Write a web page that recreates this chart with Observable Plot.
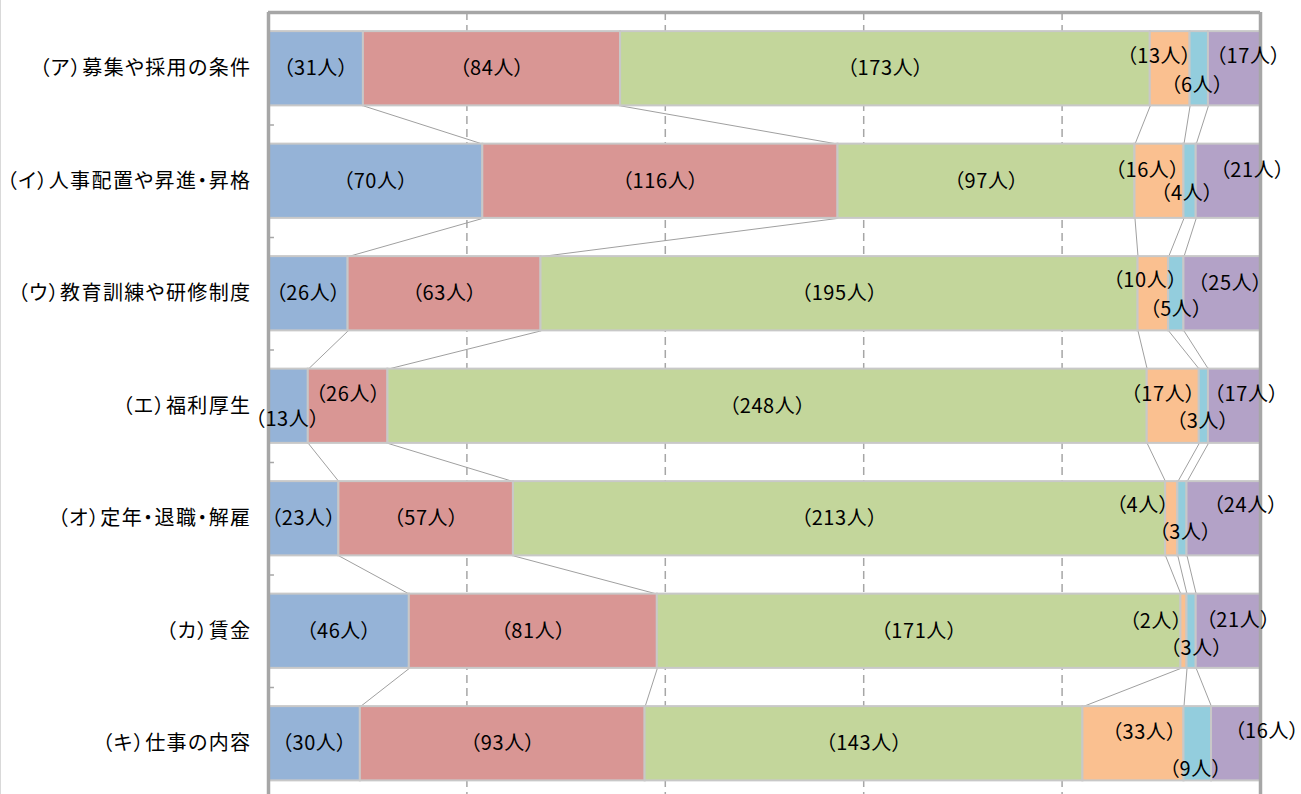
<!DOCTYPE html>
<html><head><meta charset="utf-8">
<script src="https://cdn.jsdelivr.net/npm/d3@7"></script>
<script src="https://cdn.jsdelivr.net/npm/@observablehq/plot@0.6"></script>
<style>
html,body{margin:0;padding:0;background:#fff;}
#chart{position:relative;width:1301px;height:794px;overflow:hidden;}
#chart::before{content:"";position:absolute;left:0;top:0;bottom:0;width:1px;background:#d9d9d9;z-index:2;}
#chart svg{display:block;font-feature-settings:"palt";}
.catlab text{letter-spacing:1.4px;}
.vallab text{letter-spacing:0.6px;}
</style></head><body><div id="chart"></div>
<script>
// ---- data ----
const categories = [
  "（ア）募集や採用の条件",
  "（イ）人事配置や昇進・昇格",
  "（ウ）教育訓練や研修制度",
  "（エ）福利厚生",
  "（オ）定年・退職・解雇",
  "（カ）賃金",
  "（キ）仕事の内容"
];
const seriesNames = ["系列1", "系列2", "系列3", "系列4", "系列5", "系列6"];
const series1 = [31, 70, 26, 13, 23, 46, 30];
const series2 = [84, 116, 63, 26, 57, 81, 93];
const series3 = [173, 97, 195, 248, 213, 171, 143];
const series4 = [13, 16, 10, 17, 4, 2, 33];
const series5 = [6, 4, 5, 3, 3, 3, 9];
const series6 = [17, 21, 25, 17, 24, 21, 16];
const gridTicks = [0.2, 0.4, 0.6, 0.8];

// ---- style / layout ----
const colors = ["#95B3D7", "#D99694", "#C3D69B", "#FAC090", "#93CDDD", "#B3A2C7"];
const barHalf = 0.33;
// manual label nudges (pixels) for narrow segments, keyed "row,series"
const labelNudge = {
  "0,3": [-11, -12], "0,4": [-2, 17], "0,5": [14, -12],
  "1,3": [-12, -11], "1,4": [-3, 12], "1,5": [24, -11],
  "2,3": [-8, -13], "2,4": [0, 16], "2,5": [8, -10],
  "3,0": [-1, 13], "3,1": [0, -12], "3,3": [-10, -12], "3,4": [-1, 15], "3,5": [12, -12],
  "4,3": [-29, -13], "4,4": [3, 14], "4,5": [22, -13],
  "5,3": [-28, -10], "5,4": [5, 17], "5,5": [10, -11],
  "6,3": [11, -11], "6,4": [-2, 26], "6,5": [31, -12]
};

const seriesValues = [series1, series2, series3, series4, series5, series6];
const cells = [];
categories.forEach((cat, i) => {
  const total = d3.sum(seriesValues, s => s[i]);
  let acc = 0;
  seriesValues.forEach((s, j) => {
    const v = s[i];
    cells.push({row: i, j, series: seriesNames[j], value: v,
      x1: acc / total, x2: (acc + v) / total, mid: (acc + v / 2) / total,
      key: i + "," + j});
    acc += v;
  });
});
const cellAt = (i, j) => cells[i * seriesValues.length + j];
const links = [];
for (let i = 0; i < categories.length - 1; i++) {
  for (let j = 0; j < seriesValues.length - 1; j++) {
    links.push({a: cellAt(i, j).x2, b: cellAt(i + 1, j).x2, r: i});
  }
}

const labelText = d => `（${d.value}人）`;
const textOpts = {x: "mid", y: "row", text: labelText, fontSize: 20, fill: "#000", className: "vallab"};
const textMarks = [
  Plot.text(cells, {...textOpts, filter: d => !labelNudge[d.key]})
];
for (const c of cells) {
  const n = labelNudge[c.key];
  if (!n) continue;
  textMarks.push(Plot.text([c], {...textOpts, dx: n[0], dy: n[1]}));
}

const chart = Plot.plot({
  width: 1301, height: 794,
  marginLeft: 268, marginRight: 41, marginTop: 12, marginBottom: 0,
  x: {domain: [0, 1], range: [268, 1260], axis: null},
  y: {domain: [-0.5, 6.5], range: [12, 799.5], axis: null},
  color: {domain: seriesNames, range: colors},
  style: {fontFamily: "'Noto Sans CJK JP', 'Noto Sans', sans-serif", background: "#fff", color: "#000", overflow: "hidden"},
  marks: [
    Plot.ruleX(gridTicks, {y1: -0.5, y2: 7, stroke: "#A6A6A6", strokeWidth: 1.5, strokeDasharray: "8,5"}),
    Plot.link(links, {x1: "a", x2: "b", y1: d => d.r + barHalf, y2: d => d.r + 1 - barHalf,
      stroke: "#A0A0A0", strokeWidth: 1}),
    Plot.rectX(cells, {x1: "x1", x2: "x2", y1: d => d.row - barHalf, y2: d => d.row + barHalf,
      fill: "series", stroke: "#C8C8C8", strokeWidth: 2}),
    Plot.ruleY(d3.range(categories.length - 1).map(i => i + 0.5), {x1: 0, x2: 0.006, stroke: "#A6A6A6", strokeWidth: 1.5}),
    Plot.ruleX([0, 1], {y1: -0.5, y2: 7, stroke: "#A6A6A6", strokeWidth: 3.5}),
    Plot.ruleY([-0.5], {x1: 0, x2: 1, stroke: "#A6A6A6", strokeWidth: 3.5}),
    ...textMarks,
    Plot.axisY(d3.range(categories.length), {anchor: "left", tickFormat: i => categories[i],
      tickSize: 0, tickPadding: 17, fontSize: 20, label: null, className: "catlab"})
  ]
});
document.getElementById("chart").appendChild(chart);
</script>
</body></html>
